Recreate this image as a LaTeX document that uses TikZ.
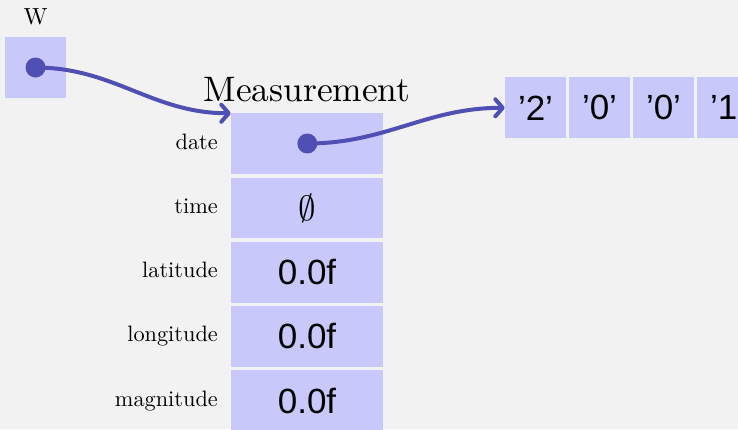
\documentclass[tikz,border=0pt]{standalone}
\usepackage{fontspec}
\usepackage{graphicx}
\newfontfamily\sansf{Liberation Sans}
\usetikzlibrary{arrows.meta}
\definecolor{bgc}{RGB}{242,242,242}
\definecolor{cellc}{RGB}{200,200,250}
\definecolor{ptrc}{RGB}{80,80,180}
\begin{document}
\begin{tikzpicture}[x=1pt,y=-1pt,
  cell/.style={fill=cellc, draw=none, minimum width=61pt, minimum height=61pt, inner sep=0pt,
    font=\sansf\fontsize{35}{40}\selectfont},
  field/.style={fill=cellc, draw=none, minimum width=152pt, minimum height=60.7pt, inner sep=0pt,
    font=\sansf\fontsize{35}{40}\selectfont},
  lab/.style={anchor=base east, inner sep=0pt},
  dotc/.style={circle, fill=ptrc, draw=none, minimum size=20pt, inner sep=0pt},
  ptr/.style={draw=ptrc, line width=4pt, line cap=round,
    -{Straight Barb[length=7.5pt,width=17pt,line cap=round,line join=round]}}
]
\newcommand{\lbl}[1]{\scalebox{2.23}{#1}}
\useasboundingbox (0,0) rectangle (738,429);
\fill[bgc] (0,0) rectangle (738,429);
\clip (0,0) rectangle (738,429);

% variable w
\node[fill=cellc, minimum width=61pt, minimum height=61pt, inner sep=0pt] (wbox) at (35.5,67.5) {};
\node[anchor=base, inner sep=0pt] (wlab) at (35.5,24) {\scalebox{2.33}{W}};
\node[dotc] (wdot) at (35.5,67.5) {};

% struct
\node[anchor=base, inner sep=0pt] (title) at (307,101) {\scalebox{3.54}{Measurement}};
\node[field] (date) at (307,143.8) {};
\node[field] (time) at (307,208) {\normalsize\scalebox{3.5}{$\emptyset$}};
\node[field] (lat) at (307,272.2) {0.0f};
\node[field] (lon) at (307,336.4) {0.0f};
\node[field] (mag) at (307,400.6) {0.0f};
\node[lab] (ldate) at (218,149.3) {\lbl{date}};
\node[lab] (ltime) at (218,213.5) {\lbl{time}};
\node[lab] (llat) at (218,277.7) {\lbl{latitude}};
\node[lab] (llon) at (218,341.9) {\lbl{longitude}};
\node[lab] (lmag) at (218,406.1) {\lbl{magnitude}};
\node[dotc] (ddot) at (307.3,143.5) {};

% char array
\node[cell] (c1) at (535.5,107.8) {’2’};
\node[cell] (c2) at (599.5,107.8) {’0’};
\node[cell] (c3) at (663.5,107.8) {’0’};
\node[cell] (c4) at (727.5,107.8) {’1’};

% pointers
\draw[ptr] (wdot.center) to[out=0,in=180] (date.north west);
\draw[ptr] (ddot.center) to[out=0,in=180] (c1.west);
\end{tikzpicture}
\end{document}
